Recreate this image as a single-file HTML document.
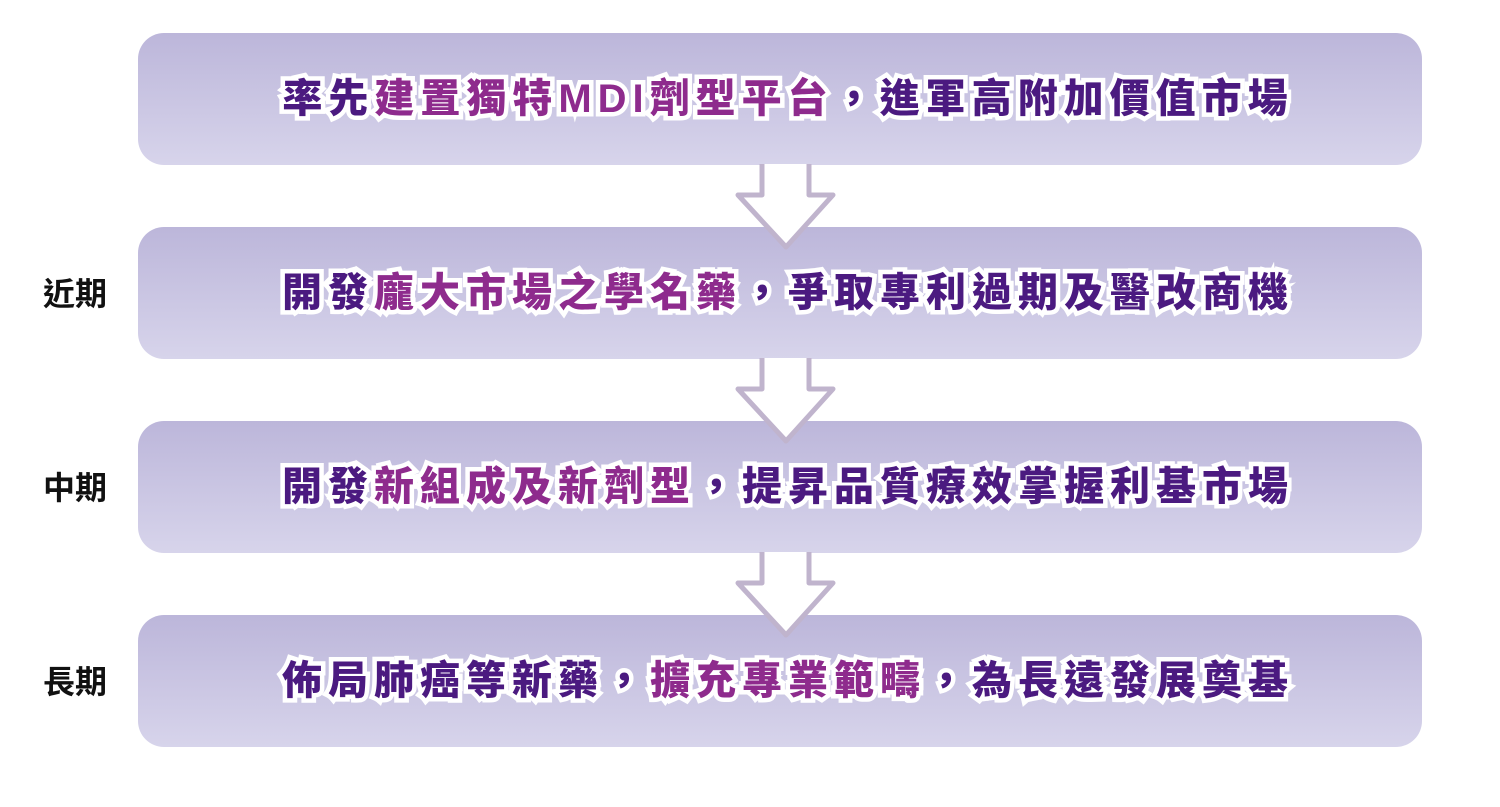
<!DOCTYPE html>
<html><head><meta charset="utf-8"><style>
html,body{margin:0;padding:0;background:#fff;width:1500px;height:807px;overflow:hidden;position:relative}
.box{position:absolute;left:138px;width:1284px;height:132px;border-radius:26px;background:linear-gradient(#bcb6da,#d7d4eb);}
.t{position:absolute;left:146px;width:1284px;text-align:center;font-family:"Liberation Sans","Noto Sans CJK TC",sans-serif;font-weight:900;font-size:40px;letter-spacing:6px;line-height:50px;color:#4b1a80;-webkit-text-stroke:9px #fff;paint-order:stroke fill;white-space:nowrap}
.t b{color:#8e2b8d;font-weight:900}
.lab{position:absolute;left:43px;font-family:"Liberation Sans","Noto Sans CJK TC",sans-serif;font-weight:700;font-size:32px;line-height:36px;color:#111}
svg{position:absolute;left:0;top:0}
</style></head><body>
<div class="box" style="top:33px"></div>
<div class="box" style="top:227px"></div>
<div class="box" style="top:421px"></div>
<div class="box" style="top:615px"></div>
<svg width="1500" height="807">
<g fill="#fff" stroke="#c0b4cd" stroke-width="5" stroke-linejoin="round">
<path d="M762 164 V195 H738 L786 247 L833 195 H809 V164"/>
<path d="M762 358 V389 H738 L786 441 L833 389 H809 V358"/>
<path d="M762 552 V583 H738 L786 635 L833 583 H809 V552"/>
</g>
</svg>
<div class="t" style="top:74px">率先<b>建置獨特MDI劑型平台</b>，進軍高附加價值市場</div>
<div class="t" style="top:268px">開發<b>龐大市場之學名藥</b>，爭取專利過期及醫改商機</div>
<div class="t" style="top:462px">開發<b>新組成及新劑型</b>，提昇品質療效掌握利基市場</div>
<div class="t" style="top:656px">佈局肺癌等新藥，<b>擴充專業範疇</b>，為長遠發展奠基</div>
<div class="lab" style="top:276px">近期</div>
<div class="lab" style="top:470px">中期</div>
<div class="lab" style="top:664px">長期</div>
</body></html>
